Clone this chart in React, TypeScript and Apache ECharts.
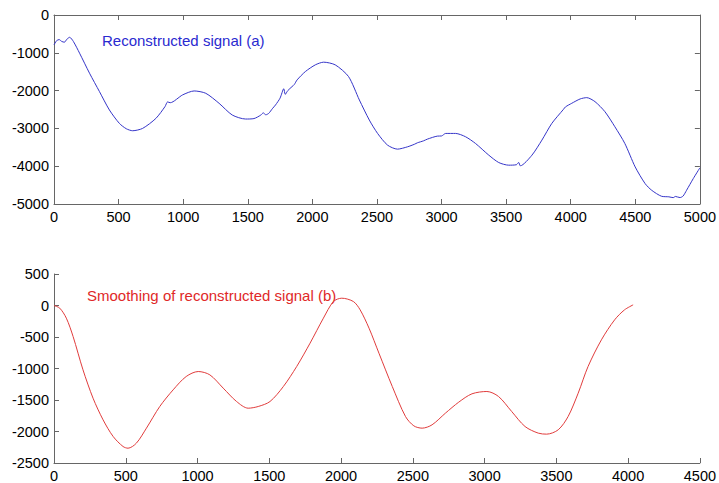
import React, { useEffect, useRef } from "react";
import * as echarts from "echarts";

const topX = [0, 20, 40, 60, 80, 100, 121, 150, 198, 275, 352, 429, 506, 560, 609, 686, 789, 860, 879, 900, 995, 1085, 1175, 1278, 1380, 1483, 1548, 1600, 1620, 1640, 1663, 1690, 1715, 1750, 1779, 1790, 1810, 1843, 1860, 1882, 1946, 2023, 2087, 2177, 2280, 2364, 2441, 2505, 2582, 2659, 2737, 2790, 2814, 2860, 2891, 2968, 3000, 3032, 3109, 3186, 3263, 3366, 3443, 3520, 3580, 3597, 3610, 3700, 3777, 3854, 3944, 3960, 4008, 4073, 4124, 4188, 4265, 4342, 4419, 4499, 4576, 4627, 4704, 4760, 4794, 4810, 4846, 4870, 4897, 4949, 5000];
const topY = [-790, -680, -650, -700, -720, -640, -590, -700, -1010, -1540, -2027, -2513, -2867, -3010, -3062, -3000, -2735, -2420, -2300, -2320, -2115, -2009, -2071, -2336, -2646, -2752, -2740, -2650, -2590, -2640, -2600, -2480, -2380, -2200, -1950, -2100, -2000, -1894, -1840, -1717, -1496, -1319, -1248, -1319, -1628, -2248, -2779, -3133, -3442, -3549, -3487, -3420, -3380, -3330, -3283, -3204, -3200, -3133, -3133, -3221, -3398, -3708, -3903, -3973, -3960, -3900, -3990, -3708, -3310, -2867, -2496, -2430, -2336, -2221, -2186, -2292, -2558, -2956, -3398, -4018, -4460, -4637, -4796, -4810, -4832, -4800, -4830, -4790, -4637, -4327, -4044];

const botX = [0, 40, 86, 133, 202, 272, 342, 412, 481, 516, 574, 644, 737, 830, 921, 1005, 1086, 1179, 1272, 1353, 1423, 1505, 1598, 1691, 1784, 1877, 1947, 2005, 2086, 2133, 2195, 2264, 2357, 2449, 2507, 2565, 2634, 2727, 2820, 2912, 3016, 3097, 3189, 3282, 3374, 3432, 3513, 3582, 3652, 3721, 3814, 3906, 3975, 4035];
const botY = [0, -42, -201, -492, -1021, -1471, -1815, -2079, -2238, -2265, -2185, -1947, -1603, -1339, -1127, -1048, -1101, -1312, -1524, -1630, -1603, -1524, -1286, -968, -598, -201, 63, 116, 63, -69, -360, -757, -1286, -1762, -1910, -1947, -1894, -1709, -1534, -1402, -1365, -1444, -1683, -1921, -2026, -2042, -1973, -1762, -1392, -968, -545, -228, -69, 10];

const labelA = "Reconstructed signal (a)";
const labelB = "Smoothing of reconstructed signal (b)";

const FONT = "Liberation Sans, Arial, sans-serif";
const AXC = "#666666";

function axisBase(extra: any) {
  return {
    type: "value",
    axisLine: { show: true, onZero: false, lineStyle: { color: AXC, width: 1 } },
    axisTick: { show: true, inside: true, length: 5, lineStyle: { color: AXC } },
    splitLine: { show: false },
    axisLabel: { color: "#000", fontSize: 14.5, fontFamily: FONT, margin: 5, formatter: (v: number) => String(v) },
    ...extra,
  };
}

export default function App() {
  const ref = useRef<HTMLDivElement>(null);
  useEffect(() => {
    const chart = echarts.init(ref.current!, null, { renderer: "svg" });
    chart.setOption({
      animation: false,
      backgroundColor: "#fff",
      grid: [
        { left: 54, top: 15, width: 648, height: 189 },
        { left: 54, top: 274, width: 648, height: 189 },
      ],
      xAxis: [
        axisBase({ gridIndex: 0, min: 0, max: 5000, interval: 500, position: "bottom" }),
        axisBase({ gridIndex: 0, min: 0, max: 5000, interval: 500, position: "top", axisLabel: { show: false } }),
        axisBase({ gridIndex: 1, min: 0, max: 4500, interval: 500, position: "bottom" }),
      ],
      yAxis: [
        axisBase({ gridIndex: 0, min: -5000, max: 0, interval: 1000, position: "left" }),
        axisBase({ gridIndex: 0, min: -5000, max: 0, interval: 1000, position: "right", axisLabel: { show: false } }),
        axisBase({ gridIndex: 1, min: -2500, max: 500, interval: 500, position: "left" }),
      ],
      series: [
        {
          type: "line",
          xAxisIndex: 0,
          yAxisIndex: 0,
          data: topX.map((x, i) => [x, topY[i]]),
          showSymbol: false,
          smooth: 0.25,
          lineStyle: { color: "#3535c8", width: 1 },
        },
        {
          type: "line",
          xAxisIndex: 2,
          yAxisIndex: 2,
          data: botX.map((x, i) => [x, botY[i]]),
          showSymbol: false,
          smooth: 0.3,
          lineStyle: { color: "#e03c3c", width: 1 },
        },
      ],
      graphic: [
        {
          type: "text",
          left: 102,
          top: 33,
          style: { text: labelA, fill: "#2a2ad0", fontSize: 15, fontFamily: FONT },
        },
        {
          type: "text",
          left: 87,
          top: 288,
          style: { text: labelB, fill: "#e02828", fontSize: 15, fontFamily: FONT },
        },
      ],
    });
    return () => chart.dispose();
  }, []);
  return <div ref={ref} style={{ width: 719, height: 483, position: "absolute", left: 0, top: 0 }} />;
}
